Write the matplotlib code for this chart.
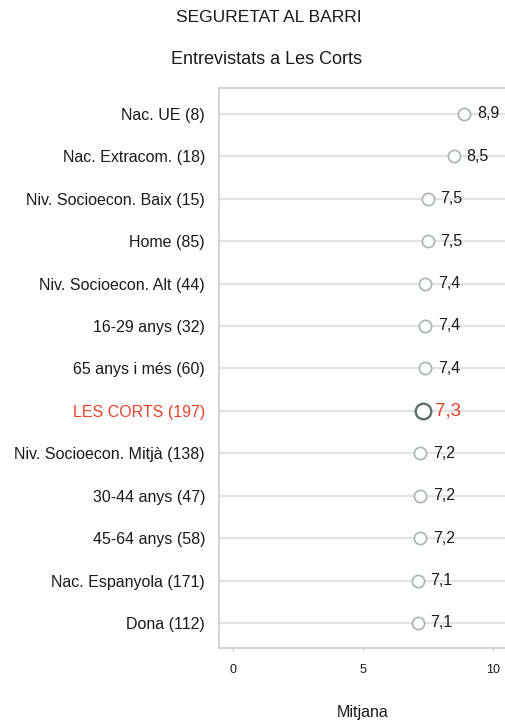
import matplotlib.pyplot as plt

categories = ['Nac. UE (8)', 'Nac. Extracom. (18)', 'Niv. Socioecon. Baix (15)', 'Home (85)',
              'Niv. Socioecon. Alt (44)', '16-29 anys (32)', '65 anys i més (60)', 'LES CORTS (197)',
              'Niv. Socioecon. Mitjà (138)', '30-44 anys (47)', '45-64 anys (58)',
              'Nac. Espanyola (171)', 'Dona (112)']
values = [8.9, 8.5, 7.5, 7.5, 7.4, 7.4, 7.4, 7.3, 7.2, 7.2, 7.2, 7.1, 7.1]
highlight = 'LES CORTS (197)'
x_ticks = [0, 5, 10]

plt.rcParams['font.family'] = ['Liberation Sans', 'DejaVu Sans']

fig = plt.figure(figsize=(5.06, 7.2), dpi=100)
ax = fig.add_axes([219 / 506, 1 - 648 / 720, 1 - 219 / 506, (648 - 88) / 720])

n = len(categories)
ypos = list(range(n))
red = '#e8412c'
dark = '#1a1a1a'

for y, cat, v in zip(ypos, categories, values):
    ax.axhline(y, color='#e3e3e3', lw=1.6, zorder=1)
    label = f'{v:.1f}'.replace('.', ',')
    if cat == highlight:
        ax.plot(v, y, 'o', ms=11.2, mfc='white', mec='#5b6e67', mew=1.7, zorder=3)
        ax.text(v + 0.47, y, label, color=red, fontsize=13.5, va='center', ha='left', zorder=4)
    else:
        ax.plot(v, y, 'o', ms=8.8, mfc='white', mec='#a8b7b2', mew=1.25, zorder=3)
        ax.text(v + 0.48, y, label, color=dark, fontsize=11.5, va='center', ha='left', zorder=4)

ax.set_xlim(-0.54, 10.5)
ax.set_ylim(n - 1 + 0.59, -0.61)
ax.set_yticks(ypos)
ax.set_yticklabels(categories, fontsize=11.5)
for lbl in ax.get_yticklabels():
    lbl.set_color(red if lbl.get_text() == highlight else dark)
ax.tick_params(axis='y', length=0, pad=10)
ax.set_xticks(x_ticks)
ax.set_xticklabels([str(t) for t in x_ticks], fontsize=9, color=dark)
ax.tick_params(axis='x', length=2.5, color='#d0d0d0', pad=9)

for s in ['left', 'top', 'bottom']:
    ax.spines[s].set_color('#cccccc')
    ax.spines[s].set_linewidth(1.2)
ax.spines['right'].set_visible(False)

fig.text(363 / 506, 1 - 713 / 720, 'Mitjana', ha='center', va='center', fontsize=11.5, color=dark)
fig.text(269 / 506, 1 - 18 / 720, 'SEGURETAT AL BARRI', ha='center', va='center', fontsize=12.5, color=dark)
fig.text(266.5 / 506, 1 - 59 / 720, 'Entrevistats a Les Corts', ha='center', va='center', fontsize=13, color=dark)

fig.savefig('out.png', dpi=100)
